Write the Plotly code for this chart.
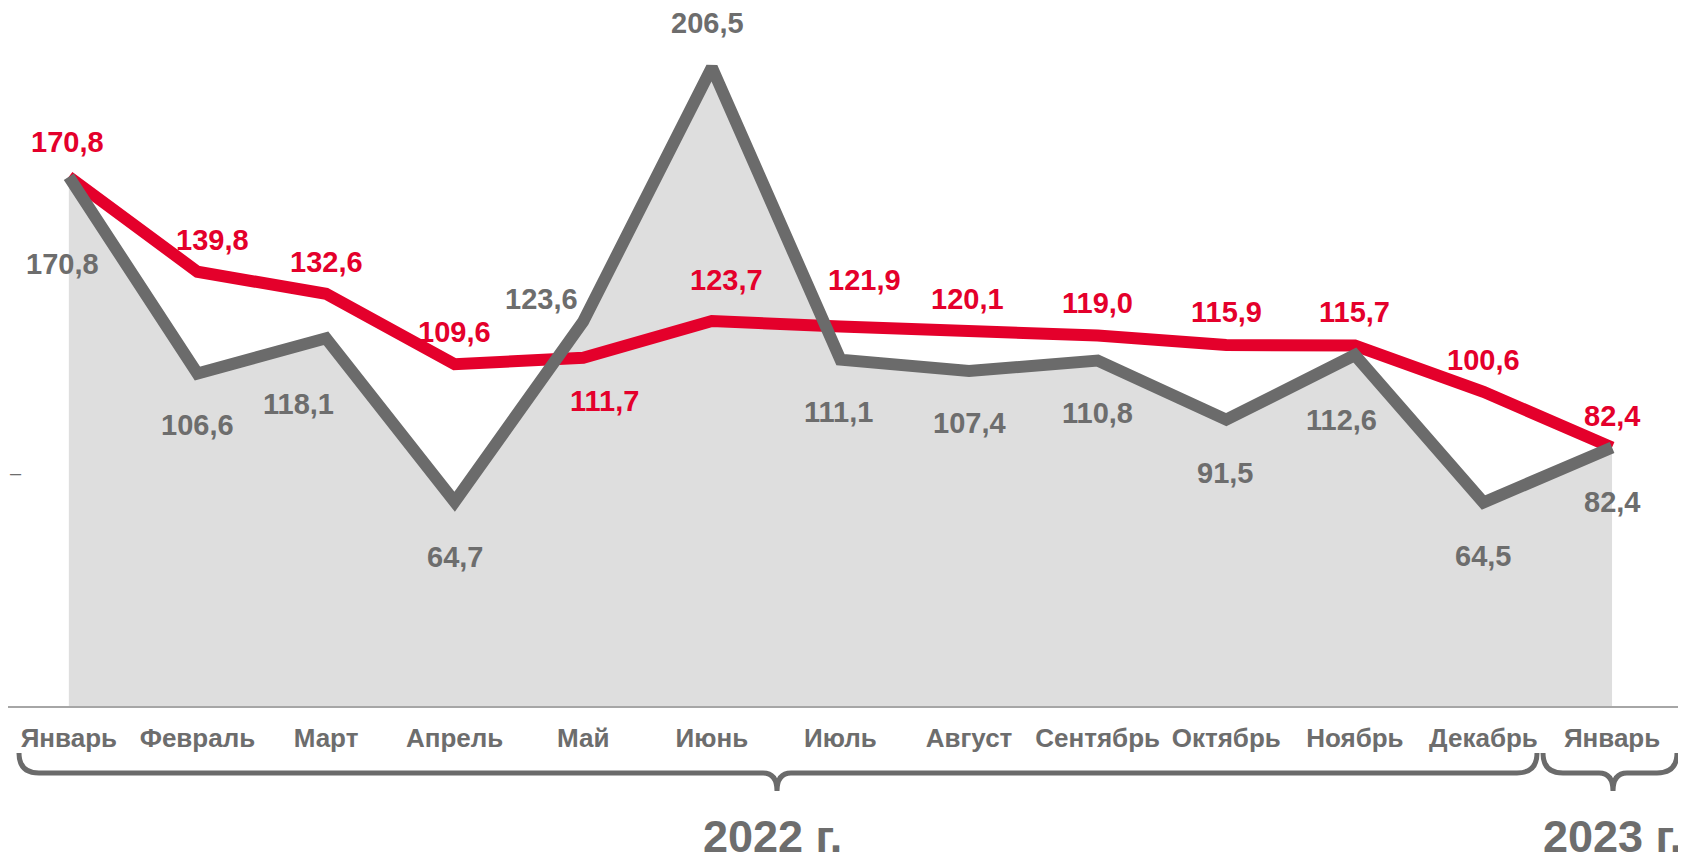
import plotly.graph_objects as go

# ---- data ----
MONTHS = ["Январь", "Февраль", "Март", "Апрель", "Май", "Июнь", "Июль",
          "Август", "Сентябрь", "Октябрь", "Ноябрь", "Декабрь", "Январь"]
GRAY_VALUES = [170.8, 106.6, 118.1, 64.7, 123.6, 206.5, 111.1, 107.4, 110.8, 91.5, 112.6, 64.5, 82.4]
RED_VALUES = [170.8, 139.8, 132.6, 109.6, 111.7, 123.7, 121.9, 120.1, 119.0, 115.9, 115.7, 100.6, 82.4]
YEAR_LABELS = ["2022 г.", "2023 г."]

# ---- layout constants (pixels) ----
PAGE_MARGIN = 8            # default body margin of the html page
W, H = 1686 - PAGE_MARGIN, 862 - PAGE_MARGIN
PLOT_BOTTOM = 706 - PAGE_MARGIN  # figure pixel row of the x axis line
Y_MIN, Y_MAX = -1.96, 225.9
X_MIN, X_MAX = -0.473, 12.575

GRAY = "#6b6b6b"
TEXT_GRAY = "#6d6d6d"
RED = "#e4002b"
FILL = "#dedede"
FONT = "Liberation Sans, Arial, sans-serif"

# label offsets in px (dx right, dy down) relative to each point
GRAY_OFF = [(-6, 87), (0, 52), (-28, 66), (0, 55), (-42, -22), (-4, -44), (-2, 52),
            (0, 52), (0, 52), (-1, 53), (-13, 65), (0, 54), (0, 54)]
RED_OFF = [(-1, -35), (15, -32), (0, -32), (0, -32), (21, 43), (15, -41), (24, -47),
           (-2, -33), (0, -32), (0, -33), (0, -34), (0, -32), (0, -32)]

x = list(range(len(MONTHS)))


def fmt(v):
    return f"{v:.1f}".replace(".", ",")


fig = go.Figure()
# invisible baseline at the bottom of the axis range, so the area reaches the axis line
fig.add_trace(go.Scatter(x=x, y=[Y_MIN] * len(x), mode="lines",
                         line=dict(width=0, color="rgba(0,0,0,0)"),
                         hoverinfo="skip", showlegend=False))
fig.add_trace(go.Scatter(x=x, y=GRAY_VALUES, mode="lines", fill="tonexty",
                         fillcolor=FILL, line=dict(width=0, color=FILL),
                         hoverinfo="skip", showlegend=False))
fig.add_trace(go.Scatter(x=x, y=RED_VALUES, mode="lines",
                         line=dict(width=12, color=RED),
                         hoverinfo="skip", showlegend=False))
fig.add_trace(go.Scatter(x=x, y=GRAY_VALUES, mode="lines",
                         line=dict(width=12, color=GRAY),
                         hoverinfo="skip", showlegend=False))

annotations = []
for i, v in enumerate(GRAY_VALUES):
    dx, dy = GRAY_OFF[i]
    annotations.append(dict(x=i, y=v, xref="x", yref="y", text=fmt(v), showarrow=False,
                            xanchor="center", yanchor="middle", xshift=dx, yshift=-dy,
                            font=dict(family=FONT, size=29, color=TEXT_GRAY, weight="bold")))
for i, v in enumerate(RED_VALUES):
    dx, dy = RED_OFF[i]
    annotations.append(dict(x=i, y=v, xref="x", yref="y", text=fmt(v), showarrow=False,
                            xanchor="center", yanchor="middle", xshift=dx, yshift=-dy,
                            font=dict(family=FONT, size=29, color=RED, weight="bold")))


def px(page_x):
    return (page_x - PAGE_MARGIN) / W


def py(page_y):
    return (PLOT_BOTTOM - (page_y - PAGE_MARGIN)) / PLOT_BOTTOM


# year labels
annotations.append(dict(x=px(772), y=py(836), xref="paper", yref="paper", text=YEAR_LABELS[0],
                        showarrow=False, xanchor="center", yanchor="middle",
                        font=dict(family=FONT, size=45, color=TEXT_GRAY, weight="bold")))
annotations.append(dict(x=px(1684), y=py(836), xref="paper", yref="paper", text=YEAR_LABELS[1],
                        showarrow=False, xanchor="right", yanchor="middle",
                        font=dict(family=FONT, size=45, color=TEXT_GRAY, weight="bold")))
# small dash at left
annotations.append(dict(x=px(PAGE_MARGIN), y=py(473), xref="paper", yref="paper", text="–",
                        showarrow=False, xanchor="left", yanchor="middle",
                        font=dict(family=FONT, size=20, color=TEXT_GRAY)))


def brace(x0, x1, xm, yt=753, ym=773, yb=791, r=20, rt=14):
    pts = [
        f"M {px(x0)},{py(yt)}",
        f"Q {px(x0)},{py(ym)} {px(x0 + r)},{py(ym)}",
        f"L {px(xm - rt)},{py(ym)}",
        f"Q {px(xm)},{py(ym)} {px(xm)},{py(yb)}",
        f"Q {px(xm)},{py(ym)} {px(xm + rt)},{py(ym)}",
        f"L {px(x1 - r)},{py(ym)}",
        f"Q {px(x1)},{py(ym)} {px(x1)},{py(yt)}",
    ]
    return dict(type="path", xref="paper", yref="paper", path=" ".join(pts),
                line=dict(color=GRAY, width=5), layer="above")


shapes = [brace(19, 1537, 777), brace(1543, 1677, 1613)]

fig.update_layout(
    width=W, height=H,
    margin=dict(l=0, r=0, t=0, b=H - PLOT_BOTTOM),
    paper_bgcolor="white", plot_bgcolor="white",
    showlegend=False,
    xaxis=dict(range=[X_MIN, X_MAX], tickmode="array", tickvals=x, ticktext=MONTHS,
               showgrid=False, zeroline=False, showline=True, linecolor="#a6a6a6",
               linewidth=2, ticks="", ticklabelstandoff=8,
               tickfont=dict(family=FONT, size=26, color=TEXT_GRAY, weight="bold"),
               fixedrange=True),
    yaxis=dict(range=[Y_MIN, Y_MAX], visible=False, showgrid=False, zeroline=False,
               fixedrange=True),
    annotations=annotations,
    shapes=shapes,
)

fig.write_html("out.html")
